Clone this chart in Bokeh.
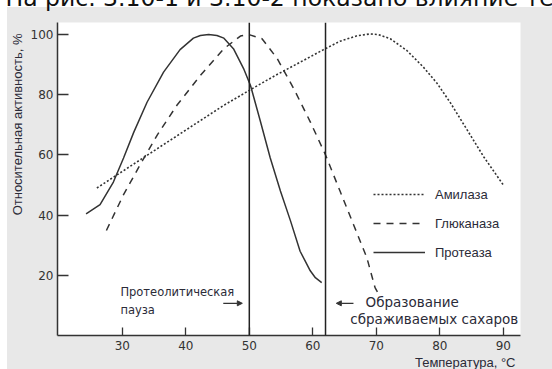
from bokeh.plotting import figure
from bokeh.models import Span, Title, Arrow, NormalHead, Legend, LegendItem, FixedTicker, Range1d, Label
from bokeh.embed import file_html
from bokeh.resources import INLINE

# ---- data ----
amylase_t = [26, 30, 34, 38, 42, 46, 50.2, 54, 58, 61.7, 64.3, 67, 69, 70.3, 72.2, 74.8, 77.4, 79.6, 81.7, 84.3, 86.9, 90]
amylase_v = [49, 54.5, 60, 65.5, 71, 76.5, 81.7, 86.3, 90.8, 95, 97.8, 99.6, 100.2, 100, 98.6, 94.7, 89.2, 83.7, 77.2, 68.3, 59.4, 50]

glucanase_t = [27.5, 30.2, 32.8, 35.5, 38.6, 42.3, 46, 48.6, 49.9, 52, 54.4, 57, 59.6, 62, 64.3, 66.4, 68.5, 69.8, 70.2]
glucanase_v = [34.9, 46.8, 56.7, 66.6, 76.5, 86.4, 95.3, 99.5, 100, 98.6, 92, 82, 71, 60, 47.9, 36.9, 25.9, 15.9, 14.4]

protease_t = [24.3, 26.5, 28.6, 30.2, 31.8, 33.9, 36.5, 39.1, 41.2, 42.3, 43.6, 44.9, 46.0, 47.5, 49.1, 50.2, 51.7, 53.3, 54.9, 56.5, 58.0, 59.6, 60.4, 61.4]
protease_v = [40.4, 43.5, 51, 59, 67.5, 77.5, 87.5, 95, 98.8, 99.7, 100, 99.7, 98.8, 95.3, 88.7, 83, 71.5, 59, 48, 38, 28, 21.5, 19.2, 17.6]

series_names = ["Амилаза", "Глюканаза", "Протеаза"]
x_ticks = [30, 40, 50, 60, 70, 80, 90]
y_ticks = [20, 40, 60, 80, 100]
marker_temps = [50, 62]

INK = "#333333"
TXT = "#2b2b38"
GRAY = "#e8e8e8"
SHIFT = 30  # canvas rows hidden above the window (cut-off page text)

p = figure(width=552, height=369 + SHIFT, output_backend="svg", toolbar_location=None,
           x_range=Range1d(19.8, 92.7), y_range=Range1d(0, 104),
           min_border_left=57, min_border_right=32, min_border_top=22 + SHIFT, min_border_bottom=33)
p.border_fill_alpha = 0
p.styles = {"margin-top": "-%dpx" % SHIFT,
            "background": "linear-gradient(%s, %s) 7px %dpx / 545px 362px no-repeat, white"
                          % (GRAY, GRAY, 7 + SHIFT)}
p.background_fill_color = "white"
p.outline_line_color = None
p.xgrid.visible = False
p.ygrid.visible = False

for ax in (p.xaxis[0], p.yaxis[0]):
    ax.axis_line_color = INK
    ax.axis_line_width = 1.5
    ax.major_tick_line_color = INK
    ax.major_tick_line_width = 1.3
    ax.major_tick_out = 0
    ax.minor_tick_line_color = None
    ax.major_label_text_font = "DejaVu Sans"
    ax.major_label_text_font_size = "12px"
    ax.major_label_text_color = INK
p.xaxis.ticker = FixedTicker(ticks=x_ticks)
p.yaxis.ticker = FixedTicker(ticks=y_ticks)
p.xaxis.major_tick_in = 8
p.yaxis.major_tick_in = 11
p.xaxis.major_label_standoff = 5
p.yaxis.major_label_standoff = 4

r_a = p.line(amylase_t, amylase_v, line_color=INK, line_width=1.6, line_dash="2 2")
r_g = p.line(glucanase_t, glucanase_v, line_color=INK, line_width=1.5, line_dash="7 6")
r_p = p.line(protease_t, protease_v, line_color=INK, line_width=1.5)

for t in marker_temps:
    p.add_layout(Span(location=t, dimension="height", line_color="#222222", line_width=1.5))

legend = Legend(items=[LegendItem(label=series_names[0], renderers=[r_a]),
                       LegendItem(label=series_names[1], renderers=[r_g]),
                       LegendItem(label=series_names[2], renderers=[r_p])],
                location=(316, 73), padding=0, margin=0, spacing=9,
                glyph_width=52, glyph_height=20, label_height=20, label_standoff=10,
                label_text_font="Liberation Sans", label_text_font_size="13px",
                label_text_color=TXT, border_line_color=None, background_fill_alpha=0)
p.add_layout(legend)

def lab(x, y, text, size, font="DejaVu Sans", **kw):
    p.add_layout(Label(x=x, y=y, text=text, text_font=font, text_font_size=size,
                       text_color=TXT, text_baseline="middle", **kw))

lab(29.7, 14.4, "Протеолитическая", "11.5px")
lab(29.7, 8.4, "пауза", "11.5px")
lab(68.3, 11.1, "Образование", "13.5px")
lab(65.9, 5.5, "сбраживаемых сахаров", "13.5px")

p.add_layout(Arrow(x_start=45.9, y_start=10.7, x_end=48.9, y_end=10.7, line_color=INK, line_width=1.2,
                   end=NormalHead(size=5, fill_color=INK, line_color=INK)))
p.add_layout(Arrow(x_start=66.4, y_start=10.7, x_end=63.7, y_end=10.7, line_color=INK, line_width=1.2,
                   end=NormalHead(size=5, fill_color=INK, line_color=INK)))

# axis titles and the page's text line above the chart (cut by the top edge, as in the reference)
p.add_layout(Title(text="Относительная активность, %", align="right", text_font="Liberation Sans",
                   text_font_size="13px", text_font_style="normal", text_color=TXT,
                   standoff=6, offset=11), "left")
p.add_layout(Title(text="Температура, °C", align="right", text_font="Liberation Sans",
                   text_font_size="13px", text_font_style="normal", text_color=TXT,
                   standoff=0, offset=5), "below")
p.add_layout(Title(text="На рис. 3.10-1 и 3.10-2 показано влияние те", align="left",
                   text_font="DejaVu Sans", text_font_size="23.5px", text_font_style="normal",
                   text_color="#111111", standoff=11, offset=-57, padding=5), "above")

open("out.html", "w").write(file_html(p, INLINE))
